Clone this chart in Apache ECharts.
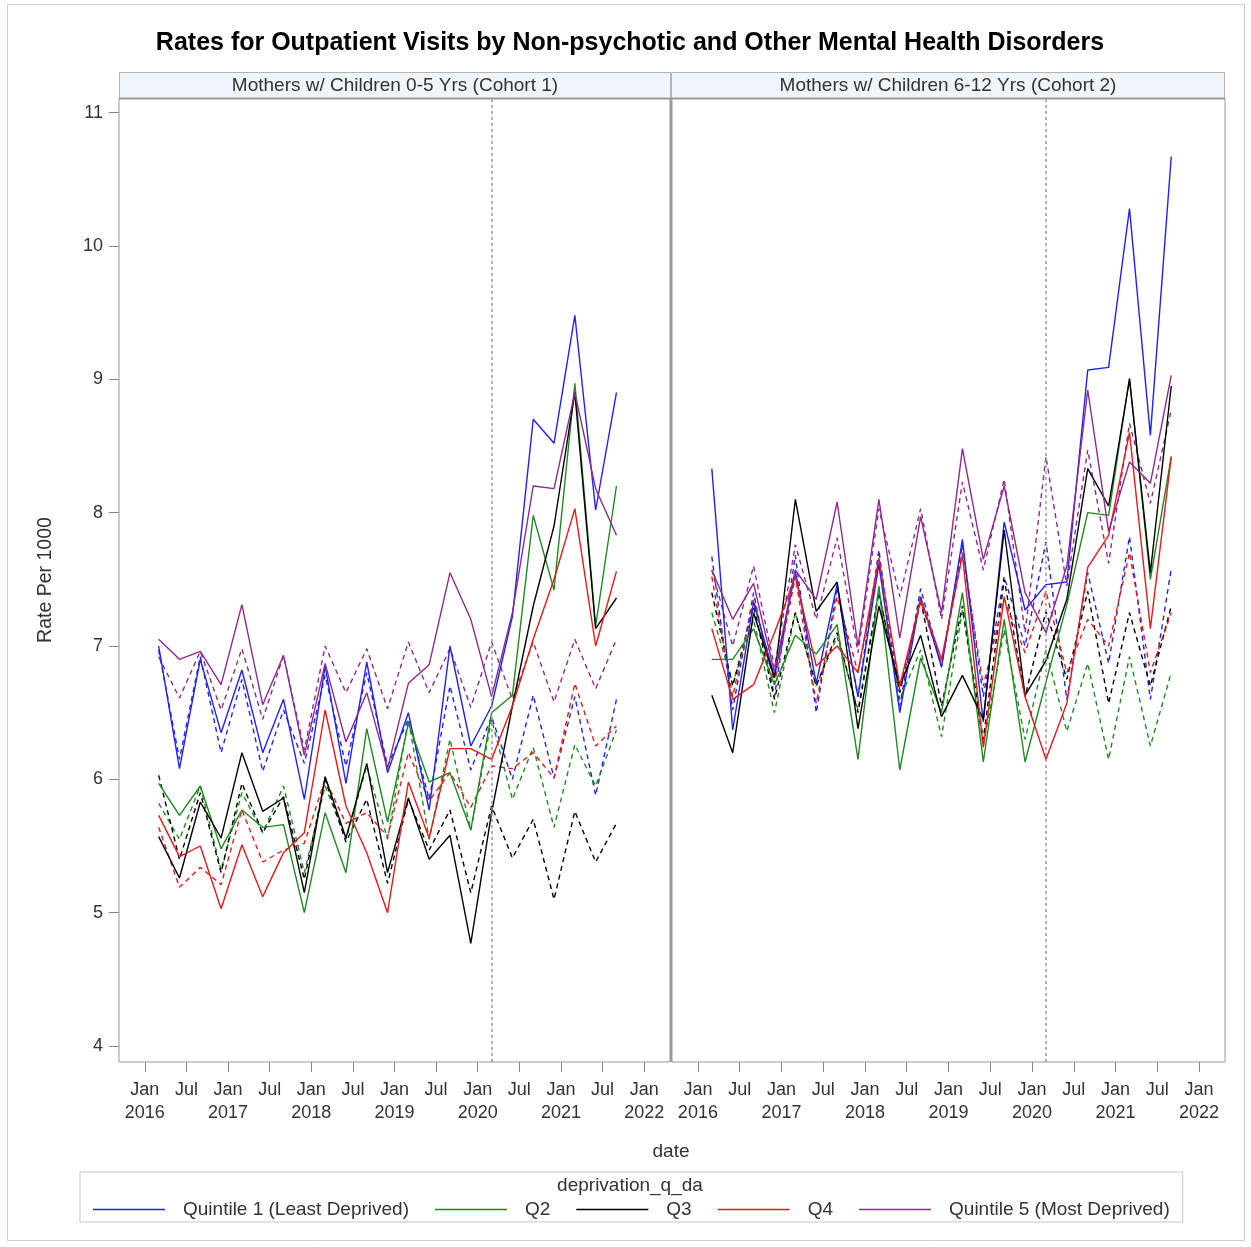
<!DOCTYPE html>
<html>
<head>
<meta charset="utf-8">
<script src="https://cdn.jsdelivr.net/npm/echarts@6/dist/echarts.min.js"></script>
<style>
html,body{margin:0;padding:0;background:#fff;}
#chart{width:1251px;height:1247px;}
</style>
</head>
<body>
<div id="chart"></div>
<script>
// ---- data ----
var quarters = ['2016-03','2016-06','2016-09','2016-12','2017-03','2017-06','2017-09','2017-12',
  '2018-03','2018-06','2018-09','2018-12','2019-03','2019-06','2019-09','2019-12',
  '2020-03','2020-06','2020-09','2020-12','2021-03','2021-06','2021-09'];
var xTicks = ['2016-01','2016-07','2017-01','2017-07','2018-01','2018-07','2019-01','2019-07',
  '2020-01','2020-07','2021-01','2021-07','2022-01'];
var yTicks = [4,5,6,7,8,9,10,11];
var covidMark = '2020-03';
var panelTitles = ['Mothers w/ Children 0-5 Yrs (Cohort 1)','Mothers w/ Children 6-12 Yrs (Cohort 2)'];
var legendNames = ['Quintile 1 (Least Deprived)','Q2','Q3','Q4','Quintile 5 (Most Deprived)'];

// Cohort 1, solid lines
var c1_q1 = [7.0,6.08,6.9,6.35,6.82,6.2,6.6,5.85,6.85,5.97,6.88,6.05,6.5,5.77,7.0,6.25,6.55,7.22,8.7,8.52,9.48,8.02,8.9];
var c1_q2 = [5.97,5.73,5.95,5.48,5.77,5.64,5.66,5.0,5.75,5.3,6.38,5.68,6.42,5.98,6.05,5.62,6.5,6.63,7.98,7.42,8.97,7.15,8.2];
var c1_q3 = [5.57,5.26,5.83,5.56,6.2,5.76,5.86,5.15,6.02,5.56,6.12,5.3,5.86,5.4,5.58,4.77,5.75,6.55,7.3,7.9,8.9,7.13,7.36];
var c1_q4 = [5.73,5.42,5.5,5.03,5.51,5.12,5.45,5.6,6.52,5.8,5.45,5.0,5.98,5.56,6.23,6.23,6.15,6.55,7.05,7.5,8.03,7.0,7.56];
var c1_q5 = [7.05,6.9,6.96,6.71,7.31,6.56,6.93,6.18,6.87,6.28,6.65,6.08,6.72,6.86,7.55,7.2,6.62,7.25,8.2,8.18,8.9,8.18,7.83];
// Cohort 1, dashed lines
var c1_q1d = [6.97,6.15,6.92,6.2,6.75,6.06,6.52,6.12,6.78,6.1,6.8,6.1,6.45,5.85,6.7,6.07,6.47,6.0,6.63,6.01,6.62,5.88,6.6];
var c1_q2d = [5.82,5.55,5.95,5.32,5.9,5.6,5.95,5.3,5.95,5.55,6.1,5.55,6.45,5.55,6.3,5.62,6.45,5.85,6.24,5.64,6.26,5.95,6.37];
var c1_q3d = [6.03,5.4,5.9,5.3,5.97,5.6,5.87,5.25,6.0,5.53,5.85,5.22,5.85,5.47,5.77,5.15,5.8,5.41,5.7,5.1,5.76,5.38,5.67];
var c1_q4d = [5.64,5.19,5.34,5.21,5.77,5.38,5.47,5.52,6.0,5.67,5.75,5.57,6.2,5.84,6.05,5.79,6.1,6.08,6.2,6.01,6.72,6.25,6.4];
var c1_q5d = [6.92,6.61,6.96,6.52,6.98,6.45,6.93,6.22,7.0,6.65,6.98,6.53,7.03,6.65,6.98,6.54,7.03,6.6,7.03,6.58,7.05,6.68,7.05];
// Cohort 2, solid lines
var c2_q1 = [8.33,6.37,7.33,6.77,7.56,6.72,7.46,6.62,7.62,6.5,7.37,6.84,7.8,6.43,7.93,7.27,7.46,7.48,9.07,9.09,10.28,8.58,10.67];
var c2_q2 = [6.9,6.9,7.13,6.71,7.08,6.94,7.16,6.15,7.45,6.07,6.91,6.5,7.4,6.13,7.2,6.13,6.73,7.31,8.0,7.98,9.01,7.5,8.42];
var c2_q3 = [6.63,6.2,7.25,6.76,8.1,7.26,7.48,6.38,7.3,6.7,7.08,6.47,6.78,6.45,7.87,6.63,6.89,7.35,8.33,8.05,9.0,7.55,8.95];
var c2_q4 = [7.13,6.6,6.71,7.1,7.52,6.85,7.0,6.8,7.66,6.7,7.35,6.9,7.68,6.24,7.37,6.62,6.15,6.57,7.59,7.83,8.6,7.13,8.42];
var c2_q5 = [7.57,7.2,7.47,6.8,7.57,7.35,8.08,7.0,8.1,7.06,7.97,7.25,8.48,7.65,8.2,7.4,7.1,7.6,8.92,7.86,8.38,8.22,9.03];
// Cohort 2, dashed lines
var c2_q1d = [7.67,6.52,7.4,6.62,7.68,6.5,7.44,6.62,7.72,6.55,7.43,6.85,7.76,6.62,7.52,7.0,7.78,6.6,7.55,6.87,7.82,6.6,7.58];
var c2_q2d = [7.25,6.72,7.2,6.5,7.25,6.7,7.07,6.52,7.42,6.6,6.97,6.32,7.27,6.25,7.12,6.3,6.97,6.36,6.87,6.15,6.92,6.25,6.8];
var c2_q3d = [7.4,6.7,7.3,6.6,7.25,6.7,7.1,6.5,7.4,6.65,7.35,6.55,7.3,6.3,7.5,6.62,7.26,6.75,7.41,6.57,7.25,6.7,7.3];
var c2_q4d = [7.52,6.62,7.35,6.72,7.52,6.57,7.37,6.8,7.6,6.67,7.33,6.87,7.7,6.7,7.35,6.95,7.41,6.8,7.2,7.0,7.7,6.8,7.25];
var c2_q5d = [7.57,7.0,7.6,6.84,7.76,7.2,7.81,6.95,8.03,7.37,8.03,7.2,8.23,7.57,8.25,7.1,8.42,7.45,8.47,7.62,8.67,8.07,8.77];

var colors = ['#2222EE','#1F8A1F','#000000','#E41A1A','#8E2A8E'];

// ---- build ----
function ym(s){ var p = s.split('-'); return +p[0] + (+p[1]-1)/12; }
var solid = [[c1_q1,c1_q2,c1_q3,c1_q4,c1_q5],[c2_q1,c2_q2,c2_q3,c2_q4,c2_q5]];
var dashed = [[c1_q1d,c1_q2d,c1_q3d,c1_q4d,c1_q5d],[c2_q1d,c2_q2d,c2_q3d,c2_q4d,c2_q5d]];
var FONT = '"Liberation Sans", Arial, sans-serif';
var xTickVals = xTicks.map(ym);

var grids = [
  {left:119, top:98, width:551, height:964},
  {left:672, top:98, width:553, height:964}
];
var xAxes = [], yAxes = [], series = [];
for (var p=0;p<2;p++){
  grids[p].show = true; grids[p].borderColor = '#9a9a9a'; grids[p].borderWidth = 1; grids[p].backgroundColor='#fff';
  xAxes.push({
    type:'value', gridIndex:p, min:2015.69, max:2022.31,
    axisLine:{show:false},
    splitLine:{show:false},
    axisTick:{show:true, customValues:xTickVals, length:10, lineStyle:{color:'#888'}},
    axisLabel:{show:true, customValues:xTickVals, margin:17, fontFamily:FONT, fontSize:18, color:'#333', lineHeight:23,
      formatter:function(v){ var y=Math.round(v*12); var yr=Math.floor(y/12); var m=y-yr*12; return m===0 ? 'Jan\n'+yr : 'Jul\n'; }}
  });
  yAxes.push({
    type:'value', gridIndex:p, min:3.88, max:11.11,
    axisLine:{show:false}, splitLine:{show:false},
    axisTick:{show:p===0, customValues:yTicks, length:10, lineStyle:{color:'#888'}},
    axisLabel:{show:p===0, customValues:yTicks, margin:16, fontFamily:FONT, fontSize:18, color:'#333'},
    name: p===0 ? 'Rate Per 1000' : '', nameLocation:'middle', nameGap:63,
    nameTextStyle:{fontFamily:FONT, fontSize:19.5, color:'#333'}
  });
  for (var q=0;q<5;q++){
    (function(arr){
      var s = {
        type:'line', xAxisIndex:p, yAxisIndex:p,
        name: legendNames[q],
        data: quarters.map(function(d,i){ return [ym(d), arr[i]]; }),
        symbol:'none', showSymbol:false, silent:true,
        lineStyle:{color:colors[q], width:1.4, type:'solid'},
        itemStyle:{color:colors[q]},
        z:3
      };
      if (q===0){
        s.markLine = {silent:true, symbol:['none','none'], label:{show:false},
          lineStyle:{color:'#999', type:[3,3], width:1.5}, data:[{xAxis: ym(covidMark)}]};
      }
      series.push(s);
    })(solid[p][q]);
  }
  for (var q2=0;q2<5;q2++){
    (function(q, arr){
      series.push({
        type:'line', xAxisIndex:p, yAxisIndex:p,
        name: legendNames[q]+' (dashed)',
        data: quarters.map(function(d,i){ return [ym(d), arr[i]]; }),
        symbol:'none', showSymbol:false, silent:true,
        lineStyle:{color:colors[q], width:1.4, type:[5,4]},
        itemStyle:{color:colors[q]},
        z:2
      });
    })(q2, dashed[p][q2]);
  }
}

var graphics = [
  {type:'rect', shape:{x:7.5,y:4.5,width:1237,height:1236}, style:{fill:'none', stroke:'#d0d0d0', lineWidth:1}, z:-1},
  {type:'text', x:630, y:43, style:{text:'Rates for Outpatient Visits by Non-psychotic and Other Mental Health Disorders', fontFamily:FONT, fontSize:25, fontWeight:'bold', fill:'#000', textAlign:'center', textVerticalAlign:'middle'}},
  {type:'rect', shape:{x:119.5,y:72.5,width:551,height:26}, style:{fill:'#F0F4FB', stroke:'#b4b4b4', lineWidth:1}},
  {type:'rect', shape:{x:671.5,y:72.5,width:553,height:26}, style:{fill:'#F0F4FB', stroke:'#b4b4b4', lineWidth:1}},
  {type:'text', x:395, y:85.5, style:{text:panelTitles[0], fontFamily:FONT, fontSize:19, fill:'#333', textAlign:'center', textVerticalAlign:'middle'}},
  {type:'text', x:948, y:85.5, style:{text:panelTitles[1], fontFamily:FONT, fontSize:19, fill:'#333', textAlign:'center', textVerticalAlign:'middle'}},
  {type:'line', shape:{x1:671,y1:98,x2:671,y2:1062}, style:{stroke:'#999', lineWidth:2}, z:10},
  {type:'line', shape:{x1:119,y1:98.5,x2:1225,y2:98.5}, style:{stroke:'#999', lineWidth:2}, z:10},
  {type:'text', x:671, y:1152, style:{text:'date', fontFamily:FONT, fontSize:19, fill:'#333', textAlign:'center', textVerticalAlign:'middle'}},
  {type:'text', x:630, y:1186, style:{text:'deprivation_q_da', fontFamily:FONT, fontSize:19, fill:'#333', textAlign:'center', textVerticalAlign:'middle'}, z:20}
];

var chart = echarts.init(document.getElementById('chart'), null, {renderer:'canvas'});
chart.setOption({
  animation:false,
  backgroundColor:'#fff',
  grid: grids,
  xAxis: xAxes,
  yAxis: yAxes,
  legend:{
    data: legendNames, left:80, top:1172, orient:'horizontal',
    padding:[28,13,3,13], borderColor:'#c8c8c8', borderWidth:1,
    icon:'rect', itemWidth:72, itemHeight:1.6, itemGap:26, selectedMode:false,
    textStyle:{fontFamily:FONT, fontSize:19, color:'#333', padding:[0,0,0,13]}
  },
  graphic: graphics,
  series: series
});
</script>
</body>
</html>
